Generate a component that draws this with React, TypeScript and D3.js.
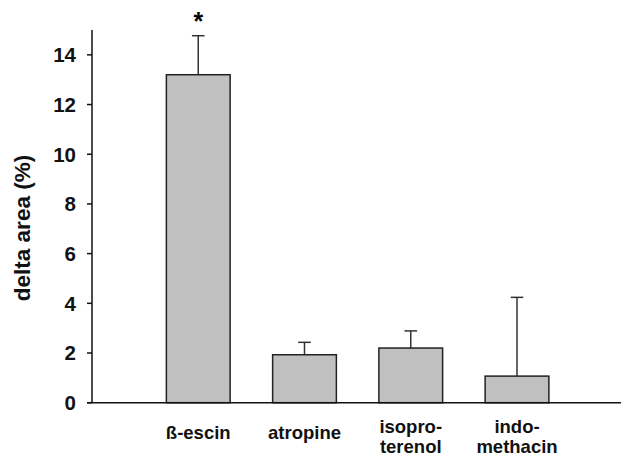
import React from "react";
import * as d3 from "d3";

const categories = ["ß-escin", "atropine", "isopro-\nterenol", "indo-\nmethacin"];
const means = [13.2, 1.93, 2.2, 1.07];
const errors = [1.57, 0.5, 0.69, 3.17];
const significant = [true, false, false, false];
const yTicks = [0, 2, 4, 6, 8, 10, 12, 14];

const W = 621;
const H = 459;
const font = "Arial, 'Liberation Sans', Helvetica, sans-serif";

export default function App() {
  const x0 = 92;
  const y = d3.scaleLinear().domain([0, 15]).range([402.7, 30]);
  const x = d3
    .scalePoint<string>()
    .domain(categories)
    .range([x0 + 106.25, x0 + 4 * 106.25]);
  const step = x.step();
  const bw = step * 0.6;
  const capW = 12.6;

  return (
    <svg
      width={W}
      height={H}
      style={{ position: "absolute", left: 0, top: 0, background: "#fff" }}
      fontFamily={font}
    >
      {categories.map((c, i) => {
        const cx = x(c)!;
        const top = y(means[i]);
        const et = y(means[i] + errors[i]);
        return (
          <g key={c}>
            <line x1={cx} x2={cx} y1={top} y2={et} stroke="#333" strokeWidth={1.5} />
            <line x1={cx - capW / 2} x2={cx + capW / 2} y1={et} y2={et} stroke="#333" strokeWidth={1.5} />
            <rect
              x={cx - bw / 2}
              y={top}
              width={bw}
              height={y(0) - top}
              fill="#c0c0c0"
              stroke="#222"
              strokeWidth={1.5}
            />
            {significant[i] && (
              <text x={cx} y={30} textAnchor="middle" fontSize={25} fontWeight="bold" fill="#000">
                *
              </text>
            )}
          </g>
        );
      })}
      <line x1={x0} x2={x0} y1={y(15)} y2={y(0)} stroke="#111" strokeWidth={1.5} />
      <line x1={x0 - 5} x2={W} y1={y(0)} y2={y(0)} stroke="#111" strokeWidth={1.5} />
      {yTicks.map((t) => (
        <g key={t}>
          <line x1={x0 - 5} x2={x0} y1={y(t)} y2={y(t)} stroke="#111" strokeWidth={1.5} />
          <text
            x={76}
            y={y(t)}
            dy="0.36em"
            textAnchor="end"
            fontSize={20.5}
            fontWeight="bold"
            fill="#111"
          >
            {t}
          </text>
        </g>
      ))}
      {categories.map((c) => {
        const lines = c.split("\n");
        const cx = x(c)!;
        return (
          <text key={c} textAnchor="middle" fontSize={18.5} fontWeight="bold" fill="#111">
            {lines.length === 1 ? (
              <tspan x={cx} y={439}>{lines[0]}</tspan>
            ) : (
              lines.map((l, j) => (
                <tspan key={j} x={cx} y={433 + j * 19.5}>
                  {l}
                </tspan>
              ))
            )}
          </text>
        );
      })}
      <text
        transform={`translate(30, 228) rotate(-90)`}
        textAnchor="middle"
        fontSize={22.5}
        fontWeight="bold"
        fill="#111"
      >
        delta area (%)
      </text>
    </svg>
  );
}
